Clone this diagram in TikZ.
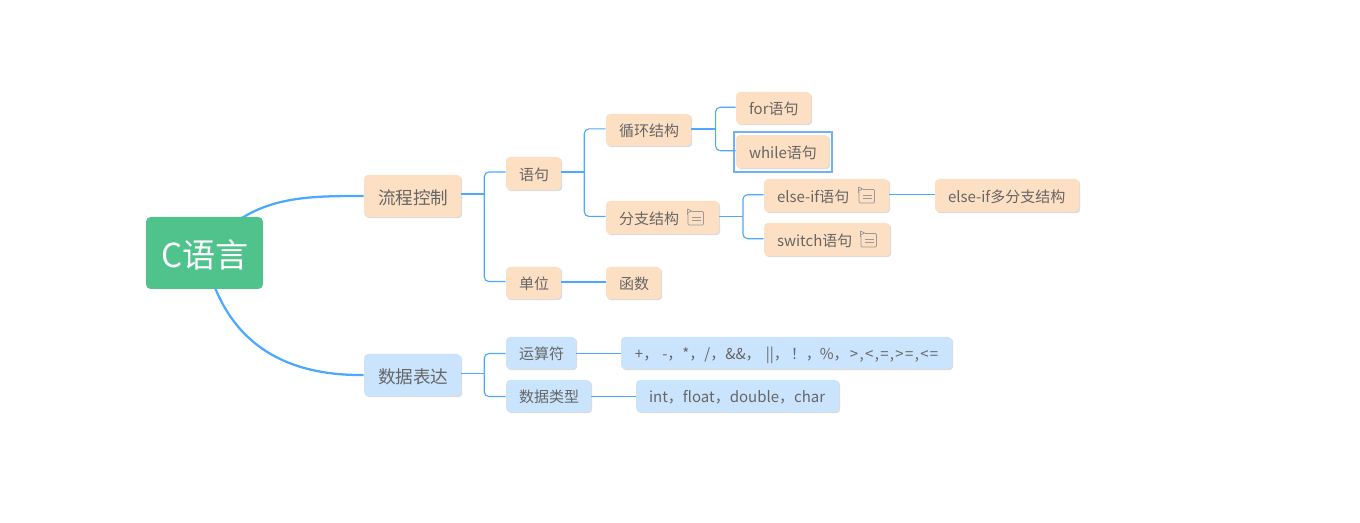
\documentclass[tikz,border=0pt]{standalone}
\usepackage{fontspec}
\setmainfont{Noto Sans CJK SC}
\usetikzlibrary{shadows,backgrounds}
\definecolor{linec}{HTML}{4DA9FF}
\definecolor{selc}{HTML}{6FB3F7}
\definecolor{orangeb}{HTML}{FDDFC4}
\definecolor{blueb}{HTML}{CBE4FD}
\definecolor{rootg}{HTML}{50C28C}
\definecolor{textc}{HTML}{666666}
\definecolor{iconc}{HTML}{9A9A9A}
\tikzset{
  x=0.75pt,y=-0.75pt,
  boxbase/.style={rectangle,rounded corners=3pt,inner sep=0pt,text=textc,
    drop shadow={shadow xshift=0.9pt,shadow yshift=-0.9pt,fill=black,opacity=.14}},
  orangebox/.style={boxbase,fill=orangeb,font=\fontsize{11.25}{13}\selectfont\def\txtoff{0.75pt}},
  bluebox/.style={boxbase,fill=blueb,font=\fontsize{11.25}{13}\selectfont\def\txtoff{0.75pt}},
  bigorange/.style={orangebox,font=\fontsize{13.2}{15}\selectfont\def\txtoff{1.5pt}},
  bigblue/.style={bluebox,font=\fontsize{13.2}{15}\selectfont\def\txtoff{1.5pt}},
  rootbox/.style={rectangle,rounded corners=3.5pt,inner sep=0pt,fill=rootg,text=white,font=\fontsize{24.8}{28}\selectfont},
  conn/.style={draw=linec,line width=0.85pt,rounded corners=3.5pt},
  stem/.style={draw=linec,line width=1.2pt},
  mainconn/.style={draw=linec,line width=1.7pt},
  selrect/.style={draw=selc,line width=1.5pt,fill=none},
  iconline/.style={draw=iconc,line width=0.55pt}
}
% name, x1,y1,x2,y2, style, text
\newcommand{\bx}[7]{%
  \pgfmathsetlengthmacro{\bw}{(#4-#2-1)*0.75pt}%
  \pgfmathsetlengthmacro{\bh}{(#5-#3-1)*0.75pt}%
  \pgfmathsetlengthmacro{\tw}{(#4-#2-27)*0.75pt}%
  \node[#6,minimum width=\bw,minimum height=\bh] (#1) at ({(#2+#4-1)/2},{(#3+#5-1)/2}) {\makebox[\tw][l]{\raisebox{\dimexpr-0.38em-\txtoff\relax}[0pt][0pt]{#7}}};%
}
% tree: parent node, trunk name, stem y shift, dx
\newcommand{\trunk}[4]{%
  \coordinate (#2) at ([yshift=#3,xshift=#4]#1.east);%
  \draw[stem] ([yshift=#3]#1.east) -- (#2);%
}
\newcommand{\noteicon}[2]{%
  \begin{scope}[shift={(#1,#2)}]
    \draw[iconline,rounded corners=0.9pt] (5,2.5) -- (16.5,2.5) -- (16.5,16) -- (1,16) -- (1,5);
    \draw[iconline] (0.5,0) -- (0.5,6);
    \draw[iconline] (0.5,0) -- (4.5,2) -- (0.5,4);
    \draw[iconline] (5,8) -- (14,8);
    \draw[iconline] (5,11.5) -- (14,11.5);
  \end{scope}%
}
\newcommand{\gp}{\kern1pt}
\begin{document}
\begin{tikzpicture}
\useasboundingbox (0,0) rectangle (1360,523);
\node[rootbox,minimum width=87.75pt,minimum height=54pt] (root) at (204.5,253) {\raisebox{\dimexpr-0.38em-1.5pt\relax}[0pt][0pt]{\kern1.4pt C语言}};
\bx{flow}{364}{175}{462}{218}{bigorange}{\kern0.75pt 流程控制}
\bx{data}{364}{354}{462}{397}{bigblue}{\kern0.75pt 数据表达}
\bx{stmt}{506}{157}{562}{191}{orangebox}{语句}
\bx{unit}{506}{267}{562}{300}{orangebox}{单位}
\bx{loop}{606}{114}{692}{147}{orangebox}{循环结构}
\bx{sw}{606}{201}{720}{235}{orangebox}{分支结构}
\bx{func}{606}{267}{662}{300}{orangebox}{函数}
\bx{for}{736}{92}{812}{125}{orangebox}{for语句}
\bx{while}{736}{135}{830}{169}{orangebox}{while语句}
\bx{elif}{764}{179}{890}{213}{orangebox}{else-if语句}
\bx{switch}{764}{223}{891}{257}{orangebox}{switch语句}
\bx{multi}{935}{179}{1080}{213}{orangebox}{else-if多分支结构}
\bx{op}{506}{337}{577}{370}{bluebox}{运算符}
\bx{type}{506}{380}{592}{413}{bluebox}{数据类型}
\bx{oplist}{621}{337}{953}{370}{bluebox}{\kern0.7pt+，\kern3pt-，*，/，\&\&，\kern3.75pt||，\kern1.5pt！，\kern-0.75pt\%，\kern1pt>\gp,\gp<\gp,\gp=\gp,\gp>\gp=\gp,\gp<\gp=}
\bx{tylist}{636}{380}{840}{413}{bluebox}{int，float，double，char}
\node[selrect,rectangle,minimum width=73.5pt,minimum height=30pt,inner sep=0pt] (sel) at (782.5,152) {};
\noteicon{687}{209}
\noteicon{858}{187}
\noteicon{860}{231}
\begin{scope}[on background layer]
  \draw[mainconn] (root.center) .. controls (248,196) and (300,196) .. (flow.west);
  \draw[mainconn] (root.center) .. controls (222,335) and (275,376) .. (data.west);
\end{scope}
\trunk{flow}{tflow}{1.5pt}{17.25pt}
\draw[conn] (tflow) |- ([yshift=1.1pt]stmt.west);
\draw[conn] (tflow) |- ([yshift=1.1pt]unit.west);
\trunk{stmt}{tstmt}{1.1pt}{17.25pt}
\draw[conn] (tstmt) |- ([yshift=0.8pt]loop.west);
\draw[conn] (tstmt) |- ([yshift=0.8pt]sw.west);
\draw[stem] ([yshift=0.8pt]unit.east) -- ([yshift=0.8pt]func.west);
\trunk{loop}{tloop}{0.8pt}{18.25pt}
\draw[conn] (tloop) |- ([yshift=0.6pt]for.west);
\draw[conn] (tloop) |- ([yshift=0.6pt]while.west);
\trunk{sw}{tsw}{0.8pt}{17.75pt}
\draw[conn] (tsw) |- ([yshift=0.6pt]elif.west);
\draw[conn] (tsw) |- ([yshift=0.6pt]switch.west);
\draw[stem] ([yshift=0.6pt]elif.east) -- ([yshift=0.6pt]multi.west);
\trunk{data}{tdata}{1.1pt}{17.25pt}
\draw[conn] (tdata) |- ([yshift=-0.4pt]op.west);
\draw[conn] (tdata) |- ([yshift=-0.4pt]type.west);
\draw[stem] ([yshift=-0.4pt]op.east) -- ([yshift=-0.4pt]oplist.west);
\draw[stem] ([yshift=-0.4pt]type.east) -- ([yshift=-0.4pt]tylist.west);
\end{tikzpicture}
\end{document}
